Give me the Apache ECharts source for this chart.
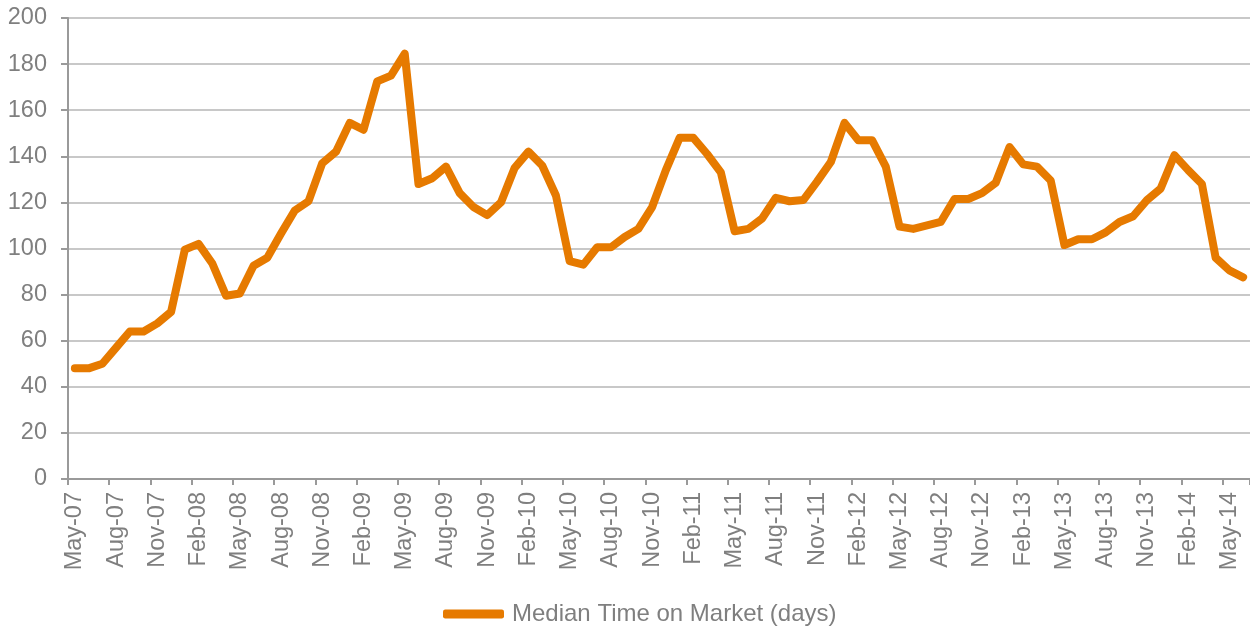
<!DOCTYPE html>
<html>
<head>
<meta charset="utf-8">
<script src="https://cdn.jsdelivr.net/npm/echarts@6/dist/echarts.min.js"></script>
<style>
html,body{margin:0;padding:0;background:#fff;}
#chart{width:1250px;height:627px;}
</style>
</head>
<body>
<div id="chart"></div>
<script>
var months = ['May','Jun','Jul','Aug','Sep','Oct','Nov','Dec','Jan','Feb','Mar','Apr'];
var categories = [];
(function(){
  var y = 7, m = 0;
  for (var i = 0; i < 86; i++) {
    categories.push(months[m] + '-' + (y < 10 ? '0' + y : '' + y));
    m++;
    if (m === 8) { y++; }
    if (m === 12) { m = 0; }
  }
})();

var seriesName = 'Median Time on Market (days)';
var values = [
  48, 48, 50, 57, 64, 64, 67.5, 72.5, 99.5, 102, 93.5, 79.5,
  80.5, 92.5, 96, 106.5, 116.5, 120.5, 137, 142, 154.5, 151.5, 172.5, 175,
  184.5, 128, 130.5, 135.5, 124, 118, 114.5, 120, 135, 142, 136, 123,
  94.5, 93, 100.5, 100.5, 105, 108.5, 118, 134, 148, 148, 141, 133,
  107.5, 108.5, 113, 122, 120.5, 121, 129, 137.5, 154.5, 147, 147, 135.5,
  109.5, 108.5, 110, 111.5, 121.5, 121.5, 124, 128.5, 144, 136.5, 135.5, 129.5,
  101.5, 104, 104, 107, 111.5, 114, 121, 126, 140.5, 134, 128, 96,
  90.5, 87.5
];
var yTicks = [0, 20, 40, 60, 80, 100, 120, 140, 160, 180, 200];

var chart = echarts.init(document.getElementById('chart'), null, {renderer: 'canvas'});
var gray = '#7f7f7f';
var font = 'Liberation Sans, Arial, sans-serif';
chart.setOption({
  animation: false,
  backgroundColor: '#ffffff',
  grid: {left: 68, top: 18, width: 1186, height: 461, containLabel: false},
  legend: {
    left: 438, top: 597,
    icon: 'roundRect',
    itemWidth: 61, itemHeight: 9,
    textStyle: {color: gray, fontSize: 24, fontFamily: font, padding: [0, 0, 0, 3]},
    data: [seriesName]
  },
  xAxis: {
    type: 'category',
    data: categories,
    boundaryGap: true,
    axisLine: {show: true, lineStyle: {color: '#9a9a9a', width: 2}},
    axisTick: {show: true, interval: 2, length: 6, alignWithLabel: false, lineStyle: {color: '#9a9a9a', width: 2}},
    axisLabel: {interval: 2, rotate: 90, margin: 13, color: gray, fontSize: 23.5, fontFamily: font},
    splitLine: {show: false}
  },
  yAxis: {
    type: 'value',
    min: yTicks[0], max: yTicks[yTicks.length - 1], interval: 20,
    axisLine: {show: true, lineStyle: {color: '#9a9a9a', width: 2}},
    axisTick: {show: true, length: 7, lineStyle: {color: '#9a9a9a', width: 2}},
    axisLabel: {margin: 21, color: gray, fontSize: 23.5, fontFamily: font},
    splitLine: {show: true, lineStyle: {color: '#c8c8c8', width: 2}}
  },
  series: [{
    name: seriesName,
    type: 'line',
    data: values,
    showSymbol: false,
    symbol: 'none',
    lineStyle: {color: '#E67A00', width: 8, cap: 'round', join: 'round'},
    itemStyle: {color: '#E67A00'}
  }]
});
</script>
</body>
</html>
